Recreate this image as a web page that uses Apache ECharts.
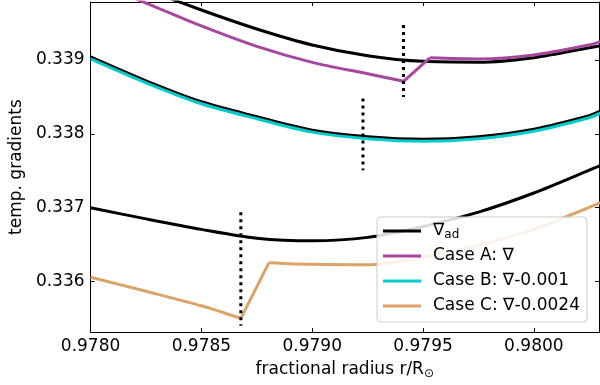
<!DOCTYPE html>
<html>
<head>
<meta charset="utf-8">
<script src="https://cdn.jsdelivr.net/npm/echarts@6/dist/echarts.min.js"></script>
<style>html,body{margin:0;padding:0;background:#fff}#c{width:600px;height:385px}</style>
</head>
<body>
<div id="c"></div>
<script>
// ---- data ----
var xGrid = [0.97800, 0.97825, 0.97850, 0.97875, 0.97900, 0.97925, 0.97950, 0.97975, 0.98000, 0.98025, 0.98030];
var adA = [0.340296, 0.339958, 0.339675, 0.339418, 0.339202, 0.339057, 0.338980, 0.338969, 0.339030, 0.339164, 0.339193];
var adB = [0.339040, 0.338717, 0.338433, 0.338231, 0.338049, 0.337961, 0.337927, 0.337961, 0.338062, 0.338244, 0.338305];
var adC = [0.336999, 0.336848, 0.336706, 0.336587, 0.336551, 0.336598, 0.336746, 0.336939, 0.337198, 0.337507, 0.337570];

// Case A: before the jump, the jump, after the jump
var xCaseA = [0.97800, 0.97825, 0.97850, 0.97875, 0.97900, 0.97925, 0.979412, 0.979531, 0.97975, 0.98000, 0.98025, 0.98030];
var yCaseA = [0.340070, 0.339769, 0.339459, 0.339182, 0.338966, 0.338811, 0.338710, 0.339027, 0.339013, 0.339067, 0.339202, 0.339247];
var kinkA = 6; // index of the lower corner

var yCaseB = [0.339013, 0.338690, 0.338406, 0.338204, 0.338022, 0.337934, 0.337900, 0.337934, 0.338035, 0.338217, 0.338278];

var xCaseC = [0.97800, 0.97825, 0.97850, 0.978678, 0.978805, 0.97900, 0.97925, 0.97950, 0.97975, 0.98000, 0.98025, 0.98030];
var yCaseC = [0.336058, 0.335869, 0.335672, 0.335501, 0.336256, 0.336233, 0.336227, 0.336328, 0.336490, 0.336706, 0.337005, 0.337066];
var kinkC = 3;

var markX = [0.978678, 0.979229, 0.979412];
var markTop = [0.336939, 0.338478, 0.339472];
var markBottom = [0.335401, 0.337506, 0.338497];

var xTicks = [0.9780, 0.9785, 0.9790, 0.9795, 0.9800];
var yTicks = [0.336, 0.337, 0.338, 0.339];
var xRange = [0.9780, 0.980294];
var yRange = [0.335316, 0.339783];

var legendNames = ['∇ad', 'Case A: ∇', 'Case B: ∇-0.001', 'Case C: ∇-0.0024'];
var colors = {ad: '#000000', A: '#a8469f', B: '#00cccc', C: '#dca266'};

function zip(xs, ys) { return xs.map(function (x, i) { return [x, ys[i]]; }); }

var FONT = 'DejaVu Sans';
var series = [];
function lineSeries(name, data, color, z, smooth) {
  return {
    type: 'line', name: name, data: data, symbol: 'none', showSymbol: false,
    smooth: smooth,
    lineStyle: {color: color, width: 3, join: 'round'}, itemStyle: {color: color},
    silent: true, clip: true, z: z
  };
}
series.push(lineSeries(legendNames[0], zip(xGrid, adA), colors.ad, 2, 0.3));
series.push(lineSeries(legendNames[0], zip(xGrid, adB), colors.ad, 2, 0.3));
series.push(lineSeries(legendNames[0], zip(xGrid, adC), colors.ad, 2, 0.3));

function addKinked(name, xs, ys, k, color) {
  var all = zip(xs, ys);
  series.push(lineSeries(name, all.slice(0, k + 1), color, 3, 0.3));
  series.push(lineSeries(name, all.slice(k, k + 2), color, 3, false));
  series.push(lineSeries(name, all.slice(k + 1), color, 3, 0.3));
}
addKinked(legendNames[1], xCaseA, yCaseA, kinkA, colors.A);
series.push(lineSeries(legendNames[2], zip(xGrid, yCaseB), colors.B, 3, 0.3));
addKinked(legendNames[3], xCaseC, yCaseC, kinkC, colors.C);

markX.forEach(function (x, i) {
  series.push({
    type: 'line', name: 'mark' + i, data: [[x, markTop[i]], [x, markBottom[i]]],
    symbol: 'none', silent: true, z: 4,
    lineStyle: {color: '#000', width: 3, type: [3, 4], cap: 'butt'}
  });
});

var axisCommon = {
  axisLine: {show: true, onZero: false, lineStyle: {color: '#000', width: 1}},
  splitLine: {show: false}
};

var chart = echarts.init(document.getElementById('c'), null, {renderer: 'canvas'});
chart.setOption({
  animation: false,
  backgroundColor: '#fff',
  textStyle: {fontFamily: FONT},
  grid: {left: 86, top: 2, width: 513, height: 331, containLabel: false},
  legend: {
    data: legendNames.map(function (n) { return {name: n, icon: 'rect'}; }),
    orient: 'vertical',
    left: 377, top: 217,
    padding: [4, 7, 6, 6],
    itemWidth: 38, itemHeight: 3, itemGap: 5,
    backgroundColor: 'rgba(255,255,255,0.85)',
    borderColor: '#cccccc', borderWidth: 1, borderRadius: 4,
    selectedMode: false,
    formatter: function (name) { return name === '∇ad' ? '∇{s|ad}' : name; },
    textStyle: {
      fontFamily: FONT, fontSize: 17, color: '#000', lineHeight: 20, padding: [0, 0, 0, 7],
      rich: {s: {fontFamily: FONT, fontSize: 12, lineHeight: 12, verticalAlign: 'bottom', color: '#000'}}
    }
  },
  xAxis: [
    Object.assign({}, axisCommon, {
      type: 'value', position: 'bottom', min: xRange[0], max: xRange[1],
      name: 'fractional radius r/R{s|⊙}', nameLocation: 'middle', nameGap: 24,
      nameTextStyle: {fontFamily: FONT, fontSize: 17, color: '#000', lineHeight: 20,
        rich: {s: {fontFamily: FONT, fontSize: 12, lineHeight: 12, verticalAlign: 'bottom', color: '#000'}}},
      axisTick: {show: true, inside: true, length: 4, lineStyle: {color: '#000', width: 1}, customValues: xTicks},
      axisLabel: {show: true, customValues: xTicks, margin: 6, fontFamily: FONT, fontSize: 17, color: '#000',
        formatter: function (v) { return v.toFixed(4); }}
    }),
    Object.assign({}, axisCommon, {
      type: 'value', position: 'top', min: xRange[0], max: xRange[1],
      axisTick: {show: true, inside: true, length: 4, lineStyle: {color: '#000', width: 1}, customValues: xTicks},
      axisLabel: {show: false}
    })
  ],
  yAxis: [
    Object.assign({}, axisCommon, {
      type: 'value', position: 'left', min: yRange[0], max: yRange[1],
      name: 'temp. gradients', nameLocation: 'middle', nameGap: 58, nameRotate: 90,
      nameTextStyle: {fontFamily: FONT, fontSize: 17, color: '#000'},
      axisTick: {show: true, inside: true, length: 4, lineStyle: {color: '#000', width: 1}, customValues: yTicks},
      axisLabel: {show: true, customValues: yTicks, margin: 6, fontFamily: FONT, fontSize: 17, color: '#000',
        formatter: function (v) { return v.toFixed(3); }}
    }),
    Object.assign({}, axisCommon, {
      type: 'value', position: 'right', min: yRange[0], max: yRange[1],
      axisTick: {show: true, inside: true, length: 4, lineStyle: {color: '#000', width: 1}, customValues: yTicks},
      axisLabel: {show: false}
    })
  ],
  series: series
});
</script>
</body>
</html>
